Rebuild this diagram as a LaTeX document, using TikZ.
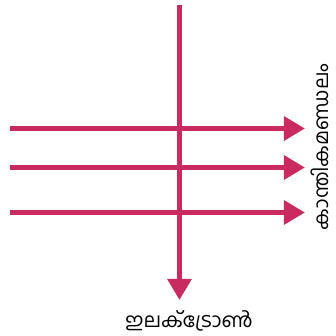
\documentclass[tikz,border=0pt]{standalone}
\usepackage{fontspec}
\newfontfamily\mlfont[Script=Malayalam]{Hind Kochi}
\usetikzlibrary{arrows.meta, positioning}
\definecolor{cpink}{HTML}{C92A5F}
\tikzset{
  every picture/.style={line width=4.2pt},
  fieldline/.style={-{Triangle[length=18pt, width=20pt]}, draw=cpink},
  label/.style={font=\mlfont\fontsize{17}{20}\selectfont, inner sep=0pt},
}

\begin{document}
\begin{tikzpicture}[x=0.03cm, y=-0.03cm]
  \useasboundingbox (0,0) rectangle (335,336);
  % field lines, left to right
  \foreach \y [count=\i] in {128.5,167.5,212.5}{
    \coordinate (f\i-start) at (10,\y);
    \coordinate (f\i-end) at (305,\y);
    \draw[fieldline] (f\i-start) -- (f\i-end);}
  % electron path
  \coordinate (e-start) at (179.5,5);
  \coordinate (e-end) at (179.5,300);
  \draw[fieldline] (e-start) -- (e-end);
  \node[label] (electron) at (189,320.5) {ഇലക്ട്രോൺ};
  \node[label, rotate=90] (field) at (319.5,147) {കാന്തികമണ്ഡലം};
\end{tikzpicture}
\end{document}
